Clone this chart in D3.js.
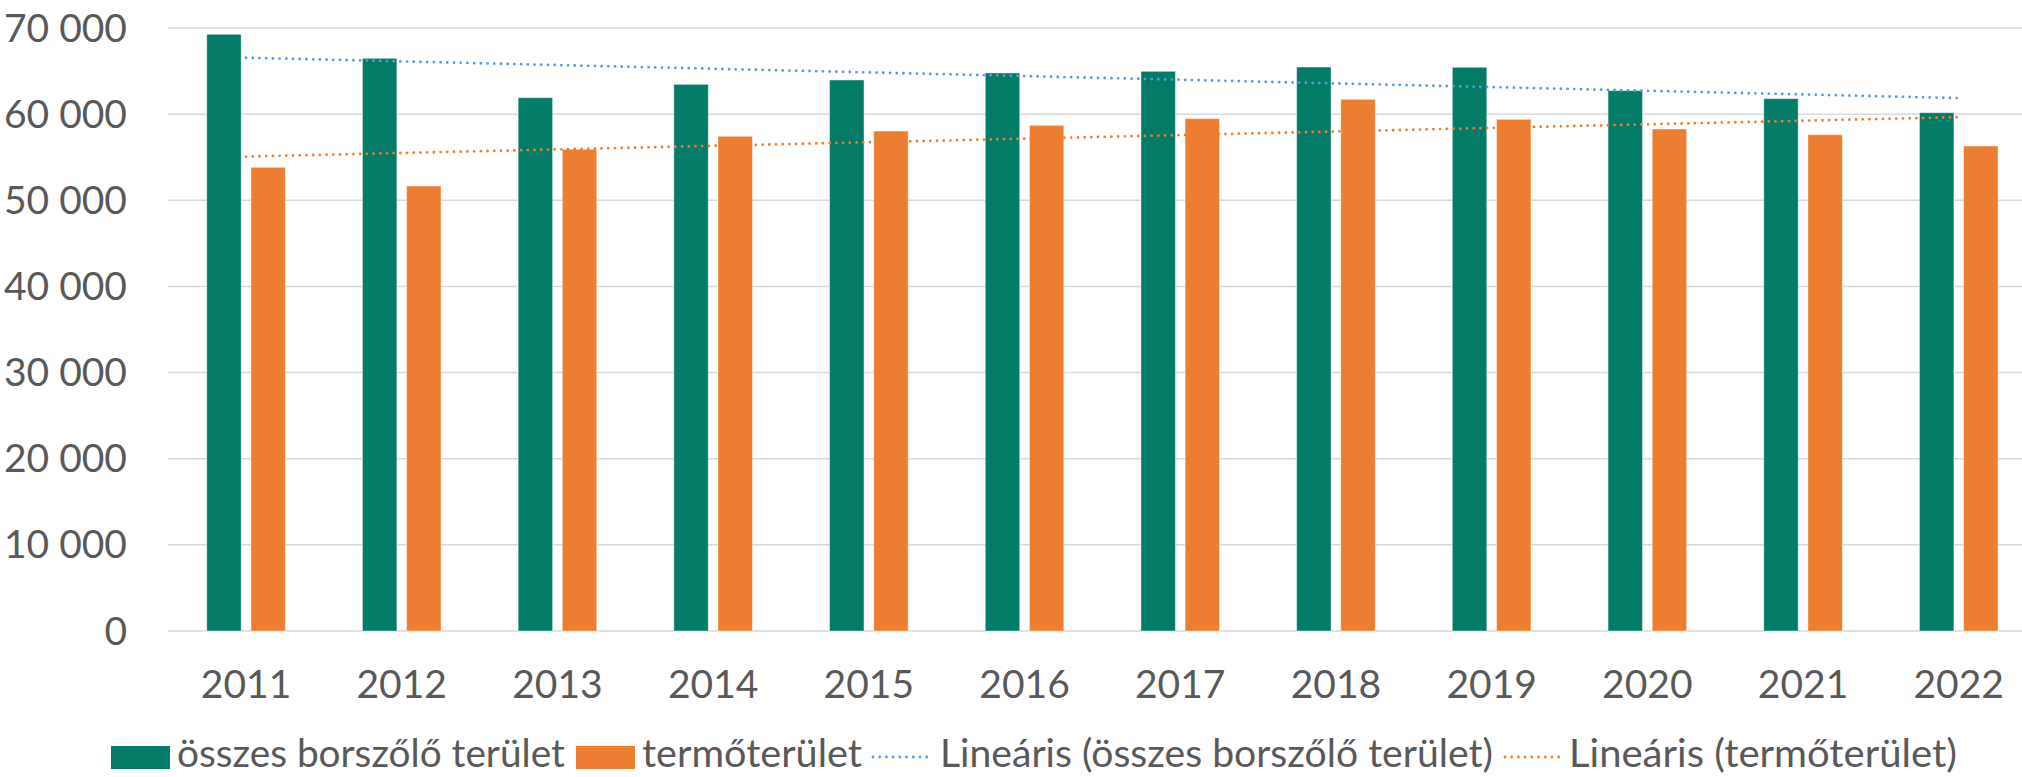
<!DOCTYPE html>
<html>
<head>
<meta charset="utf-8">
<script src="https://cdn.jsdelivr.net/npm/d3@7"></script>
<style>
  html, body { margin: 0; padding: 0; background: #fff; }
  svg { display: block; }
  text { font-family: Lato, "Open Sans", sans-serif; fill: #595959; }
</style>
</head>
<body>
<script>
// ---- data ----
const years = ["2011","2012","2013","2014","2015","2016","2017","2018","2019","2020","2021","2022"];
const totalArea = [69270, 66480, 61910, 63460, 63970, 64780, 64970, 65470, 65440, 62730, 61800, 60170];
const bearingArea = [53830, 51660, 55920, 57430, 58040, 58700, 59480, 61720, 59400, 58280, 57620, 56300];
const yTicks = [0, 10000, 20000, 30000, 40000, 50000, 60000, 70000];
const seriesNames = ["összes borszőlő terület", "termőterület"];
const trendNames = ["Lineáris (összes borszőlő terület)", "Lineáris (termőterület)"];

const W = 2022, H = 777;
const green = "#027B67", orange = "#ED7D31", blue = "#5B9BD5";
const fontSize = 39;

const svg = d3.select("body").append("svg").attr("width", W).attr("height", H);

const x = d3.scaleBand().domain(years).range([168.2, 168.2 + 12 * 155.7]).paddingInner(0).paddingOuter(0);
const x1 = d3.scaleBand().domain(seriesNames).range([38.55, 117.15]).paddingInner(0.22).paddingOuter(0);
const y = d3.scaleLinear().domain([0, 70000]).range([631, 28]);

// gridlines
svg.append("g").selectAll("line").data(yTicks).join("line")
  .attr("x1", 168).attr("x2", W)
  .attr("y1", d => y(d)).attr("y2", d => y(d))
  .attr("stroke", "#D9D9D9").attr("stroke-width", 1.5);

// y axis labels
const fmt = v => d3.format(",")(v).replace(/,/g, " ");
svg.append("g").selectAll("text").data(yTicks).join("text")
  .attr("x", 127).attr("y", d => y(d) + 13.5)
  .attr("text-anchor", "end").attr("font-size", fontSize)
  .text(d => fmt(d));

// x axis labels
svg.append("g").selectAll("text").data(years).join("text")
  .attr("x", d => x(d) + x.bandwidth() / 2).attr("y", 698)
  .attr("text-anchor", "middle").attr("font-size", fontSize)
  .text(d => d);

// bars
const series = [
  { name: seriesNames[0], values: totalArea, color: green },
  { name: seriesNames[1], values: bearingArea, color: orange }
];
series.forEach(s => {
  svg.append("g").selectAll("rect").data(s.values).join("rect")
    .attr("x", (d, i) => x(years[i]) + x1(s.name))
    .attr("width", x1.bandwidth())
    .attr("y", d => y(d))
    .attr("height", d => y(0) - y(d))
    .attr("fill", s.color)
    .attr("stroke", "#ffffff").attr("stroke-opacity", 0.45).attr("stroke-width", 1);
});

// linear trendlines (least-squares fit of each series)
function linFit(vals) {
  const n = vals.length;
  const xs = vals.map((v, i) => i + 1);
  const mx = d3.mean(xs), my = d3.mean(vals);
  let sxy = 0, sxx = 0;
  xs.forEach((xv, i) => { sxy += (xv - mx) * (vals[i] - my); sxx += (xv - mx) * (xv - mx); });
  const b = sxy / sxx, a = my - b * mx;
  return xv => a + b * xv;
}
const trends = [
  { vals: totalArea, color: blue },
  { vals: bearingArea, color: orange }
];
const cx = d => x(d) + x.bandwidth() / 2;
trends.forEach(t => {
  const f = linFit(t.vals);
  const pts = [[cx(years[0]), y(f(1))], [cx(years[years.length - 1]), y(f(years.length))]];
  svg.append("path")
    .attr("d", d3.line()(pts))
    .attr("fill", "none").attr("stroke", t.color)
    .attr("stroke-width", 2.8).attr("stroke-linecap", "round")
    .attr("stroke-dasharray", "0.01 6.7");
});

// legend
const lg = svg.append("g");
const legendItems = [
  { type: "rect", color: green, sx: 111, tx: 177, tw: 388, label: seriesNames[0] },
  { type: "rect", color: orange, sx: 576, tx: 642, tw: 220, label: seriesNames[1] },
  { type: "line", color: blue, sx: 871, tx: 940, tw: 553, label: trendNames[0] },
  { type: "line", color: orange, sx: 1503, tx: 1569, tw: 388, label: trendNames[1] }
];
legendItems.forEach(it => {
  if (it.type === "rect") {
    lg.append("rect").attr("x", it.sx).attr("y", 746).attr("width", 59).attr("height", 23).attr("fill", it.color);
  } else {
    lg.append("line").attr("x1", it.sx + 2).attr("x2", it.sx + 60).attr("y1", 757).attr("y2", 757)
      .attr("stroke", it.color).attr("stroke-width", 2.8).attr("stroke-linecap", "round")
      .attr("stroke-dasharray", "0.01 6.7");
  }
  lg.append("text").attr("x", it.tx).attr("y", 767).attr("font-size", fontSize)
    .attr("textLength", it.tw).attr("lengthAdjust", "spacingAndGlyphs")
    .text(it.label);
});
</script>
</body>
</html>
